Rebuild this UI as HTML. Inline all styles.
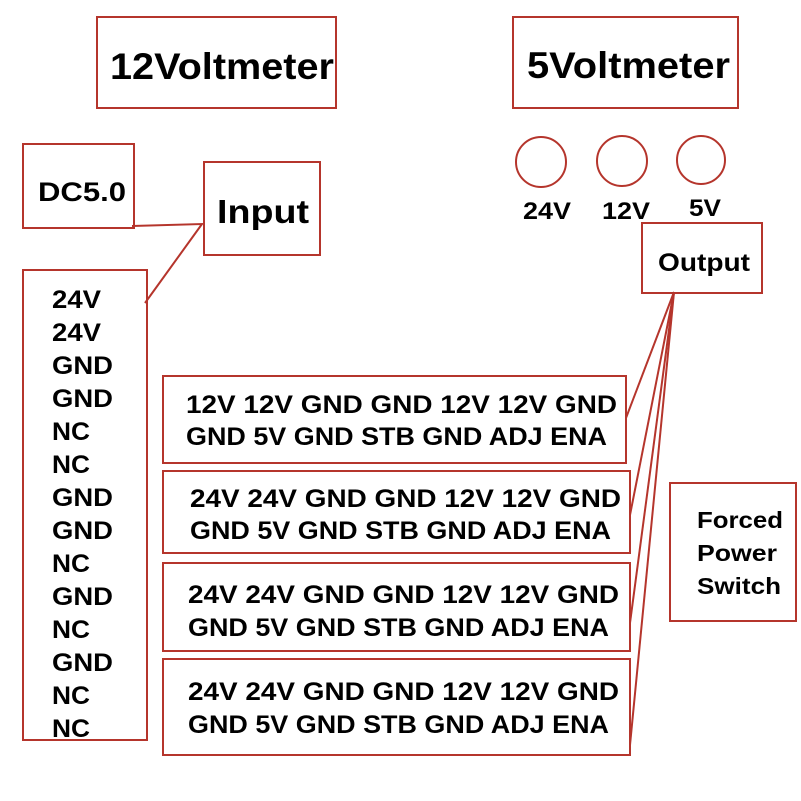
<!DOCTYPE html>
<html><head><meta charset="utf-8"><style>
html,body{margin:0;padding:0;background:#fff;}
svg{display:block;}
text{font-family:"Liberation Sans","DejaVu Sans",sans-serif;font-weight:bold;fill:#000;}
</style></head><body>
<svg width="801" height="801" viewBox="0 0 801 801" xmlns="http://www.w3.org/2000/svg">
<g fill="none" stroke="#b5352c" stroke-width="2">
<rect x="97" y="17" width="239" height="91"/>
<rect x="513" y="17" width="225" height="91"/>
<rect x="23" y="144" width="111" height="84"/>
<rect x="204" y="162" width="116" height="93"/>
<rect x="23" y="270" width="124" height="470"/>
<rect x="642" y="223" width="120" height="70"/>
<rect x="163" y="376" width="463" height="87"/>
<rect x="163" y="471" width="467" height="82"/>
<rect x="163" y="563" width="467" height="88"/>
<rect x="163" y="659" width="467" height="96"/>
<rect x="670" y="483" width="126" height="138"/>
<circle cx="541" cy="162" r="25"/>
<circle cx="622" cy="161" r="25"/>
<circle cx="701" cy="160" r="24"/>
<polyline points="132,226 202,224 145,303"/>
<line x1="674" y1="292" x2="626" y2="418"/>
<line x1="674" y1="292" x2="630" y2="515"/>
<line x1="674" y1="292" x2="630" y2="623"/>
<line x1="674" y1="292" x2="630" y2="745"/>
</g>
<text x="110" y="79" font-size="37" textLength="224" lengthAdjust="spacingAndGlyphs">12Voltmeter</text>
<text x="527" y="78" font-size="37" textLength="203" lengthAdjust="spacingAndGlyphs">5Voltmeter</text>
<text x="38" y="201" font-size="27" textLength="88" lengthAdjust="spacingAndGlyphs">DC5.0</text>
<text x="217" y="223" font-size="33" textLength="92" lengthAdjust="spacingAndGlyphs">Input</text>
<text x="523" y="219" font-size="24" textLength="48" lengthAdjust="spacingAndGlyphs">24V</text>
<text x="602" y="219" font-size="24" textLength="48" lengthAdjust="spacingAndGlyphs">12V</text>
<text x="689" y="216" font-size="24" textLength="32" lengthAdjust="spacingAndGlyphs">5V</text>
<text x="658" y="271" font-size="25" textLength="92" lengthAdjust="spacingAndGlyphs">Output</text>
<g font-size="25">
<text x="52" y="308" textLength="49" lengthAdjust="spacingAndGlyphs">24V</text>
<text x="52" y="341" textLength="49" lengthAdjust="spacingAndGlyphs">24V</text>
<text x="52" y="374" textLength="61" lengthAdjust="spacingAndGlyphs">GND</text>
<text x="52" y="407" textLength="61" lengthAdjust="spacingAndGlyphs">GND</text>
<text x="52" y="440" textLength="38" lengthAdjust="spacingAndGlyphs">NC</text>
<text x="52" y="473" textLength="38" lengthAdjust="spacingAndGlyphs">NC</text>
<text x="52" y="506" textLength="61" lengthAdjust="spacingAndGlyphs">GND</text>
<text x="52" y="539" textLength="61" lengthAdjust="spacingAndGlyphs">GND</text>
<text x="52" y="572" textLength="38" lengthAdjust="spacingAndGlyphs">NC</text>
<text x="52" y="605" textLength="61" lengthAdjust="spacingAndGlyphs">GND</text>
<text x="52" y="638" textLength="38" lengthAdjust="spacingAndGlyphs">NC</text>
<text x="52" y="671" textLength="61" lengthAdjust="spacingAndGlyphs">GND</text>
<text x="52" y="704" textLength="38" lengthAdjust="spacingAndGlyphs">NC</text>
<text x="52" y="737" textLength="38" lengthAdjust="spacingAndGlyphs">NC</text>
</g>
<g font-size="25">
<text x="186" y="413" textLength="431" lengthAdjust="spacingAndGlyphs">12V 12V GND GND 12V 12V GND</text>
<text x="186" y="445" textLength="421" lengthAdjust="spacingAndGlyphs">GND 5V GND STB GND ADJ ENA</text>
<text x="190" y="507" textLength="431" lengthAdjust="spacingAndGlyphs">24V 24V GND GND 12V 12V GND</text>
<text x="190" y="539" textLength="421" lengthAdjust="spacingAndGlyphs">GND 5V GND STB GND ADJ ENA</text>
<text x="188" y="603" textLength="431" lengthAdjust="spacingAndGlyphs">24V 24V GND GND 12V 12V GND</text>
<text x="188" y="636" textLength="421" lengthAdjust="spacingAndGlyphs">GND 5V GND STB GND ADJ ENA</text>
<text x="188" y="700" textLength="431" lengthAdjust="spacingAndGlyphs">24V 24V GND GND 12V 12V GND</text>
<text x="188" y="733" textLength="421" lengthAdjust="spacingAndGlyphs">GND 5V GND STB GND ADJ ENA</text>
</g>
<text x="697" y="528" font-size="23" textLength="86" lengthAdjust="spacingAndGlyphs">Forced</text>
<text x="697" y="561" font-size="23" textLength="80" lengthAdjust="spacingAndGlyphs">Power</text>
<text x="697" y="594" font-size="23" textLength="84" lengthAdjust="spacingAndGlyphs">Switch</text>
</svg>
</body></html>
